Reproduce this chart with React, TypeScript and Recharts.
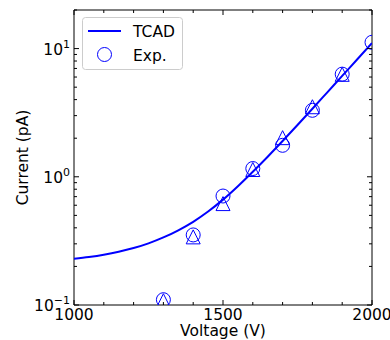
import { ComposedChart, Line, Scatter, XAxis, YAxis, Legend, Label, ReferenceArea } from "recharts"

// TCAD simulation curve
const tcadVoltage = [1000, 1050, 1100, 1150, 1200, 1250, 1300, 1350, 1400, 1450, 1500, 1550, 1600, 1650, 1700, 1750, 1800, 1850, 1900, 1950, 2000]
const tcadCurrent = [0.229, 0.2366, 0.2466, 0.26, 0.278, 0.3027, 0.3365, 0.3828, 0.4457, 0.5358, 0.6637, 0.8453, 1.096, 1.435, 1.901, 2.535, 3.396, 4.56, 6.124, 8.222, 11.04]

// measured points, two sets (circles / triangles)
const circleVoltage = [1300, 1400, 1500, 1600, 1700, 1800, 1900, 2000]
const circleCurrent = [0.11, 0.352, 0.708, 1.16, 1.76, 3.3, 6.32, 11.2]
const triangleVoltage = [1300, 1400, 1500, 1600, 1700, 1800, 1900]
const triangleCurrent = [0.108, 0.34, 0.618, 1.14, 2.02, 3.52, 6.3]

const xTicks = [1000, 1100, 1200, 1300, 1400, 1500, 1600, 1700, 1800, 1900, 2000]
const xMajor = [1000, 1500, 2000]
const yTicks = [0.1, 0.2, 0.3, 0.4, 0.5, 0.6, 0.7, 0.8, 0.9, 1, 2, 3, 4, 5, 6, 7, 8, 9, 10, 20]
const yMajor = [0.1, 1, 10]
const yExponent: Record<string, string> = { "0.1": "−1", "1": "0", "10": "1" }

const toPoints = (xs: number[], ys: number[]) => xs.map((v, i) => ({ voltage: v, current: ys[i] }))
const tcadData = toPoints(tcadVoltage, tcadCurrent)
const circleData = toPoints(circleVoltage, circleCurrent)
const triangleData = toPoints(triangleVoltage, triangleCurrent)

const BLUE = "#0000ff"
const FONT = 15.5
// axes are 1px thick, so plot area = left 74, right 372, top 10, bottom 305
const margin = { top: 10, right: 18, bottom: 34, left: 73 }
const PLOT_TOP = margin.top
const PLOT_RIGHT = 390 - margin.right

function XTick({ x, y, payload }: any) {
  const major = xMajor.includes(payload.value)
  const len = major ? 5 : 3
  return (
    <g>
      <line x1={x} x2={x} y1={y} y2={y - len} stroke="#000" />
      <line x1={x} x2={x} y1={PLOT_TOP} y2={PLOT_TOP + len} stroke="#000" />
      {major && (
        <text x={x} y={y + 15} textAnchor="middle" fontSize={FONT} fill="#000">
          {payload.value}
        </text>
      )}
    </g>
  )
}

function YTick({ x, y, payload }: any) {
  const major = yMajor.includes(payload.value)
  const len = major ? 5 : 3
  return (
    <g>
      <line x1={x} x2={x + len} y1={y} y2={y} stroke="#000" />
      <line x1={PLOT_RIGHT} x2={PLOT_RIGHT - len} y1={y} y2={y} stroke="#000" />
      {major && (
        <text x={x - 4} y={y + 6} textAnchor="end" fontSize={FONT} fill="#000">
          10
          <tspan dy={-7} fontSize={11}>{yExponent[String(payload.value)]}</tspan>
        </text>
      )}
    </g>
  )
}

function CircleMarker({ cx, cy }: any) {
  return <circle cx={cx} cy={cy} r={7} fill="none" stroke={BLUE} strokeWidth={1} />
}

function TriangleMarker({ cx, cy }: any) {
  return (
    <polygon
      points={`${cx},${cy - 7} ${cx - 7},${cy + 7} ${cx + 7},${cy + 7}`}
      fill="none"
      stroke={BLUE}
      strokeWidth={1}
    />
  )
}

function LegendBox() {
  return (
    <svg width={101} height={53} style={{ display: "block" }}>
      <rect x={0.5} y={0.5} width={100} height={52} rx={3} fill="#fff" fillOpacity={0.8} stroke="#ccc" />
      <line x1={6} x2={39} y1={14} y2={14} stroke={BLUE} strokeWidth={2} />
      <text x={51} y={19.5} fontSize={FONT} fill="#000">TCAD</text>
      <circle cx={22.5} cy={37.5} r={7} fill="none" stroke={BLUE} />
      <text x={51} y={43.5} fontSize={FONT} fill="#000">Exp.</text>
    </svg>
  )
}

export default function App() {
  return (
    <div style={{ position: "absolute", left: 0, top: 0, width: 390, height: 340, background: "#fff", fontFamily: "DejaVu Sans" }}>
      <ComposedChart width={390} height={340} margin={margin}>
        <XAxis
          dataKey="voltage"
          type="number"
          domain={[1000, 2000]}
          allowDataOverflow
          ticks={xTicks}
          interval={0}
          tick={XTick}
          tickLine={false}
          axisLine={false}
          tickSize={0}
          tickMargin={0}
          height={1}
        >
          <Label value="Voltage (V)" position="bottom" offset={19} fill="#000" fontSize={FONT} />
        </XAxis>
        <YAxis
          dataKey="current"
          type="number"
          scale="log"
          domain={[0.1, 20]}
          allowDataOverflow
          ticks={yTicks}
          interval={0}
          tick={YTick}
          tickLine={false}
          axisLine={false}
          tickSize={0}
          tickMargin={0}
          width={1}
        >
          <Label
            value="Current (pA)"
            angle={-90}
            position="left"
            offset={50.5}
            fill="#000"
            fontSize={FONT}
            style={{ textAnchor: "middle" }}
          />
        </YAxis>
        <ReferenceArea x1={1000} x2={2000} y1={0.1} y2={20} fill="none" stroke="#000" strokeWidth={1} />
        <Line
          data={tcadData}
          dataKey="current"
          type="monotone"
          stroke={BLUE}
          strokeWidth={2}
          dot={false}
          isAnimationActive={false}
        />
        <Scatter data={circleData} dataKey="current" shape={CircleMarker} isAnimationActive={false} />
        <Scatter data={triangleData} dataKey="current" shape={TriangleMarker} isAnimationActive={false} />
        <Legend
          layout="vertical"
          align="center"
          verticalAlign="middle"
          wrapperStyle={{ left: 82, top: 17, width: 101, height: 53 }}
          content={LegendBox}
        />
      </ComposedChart>
    </div>
  )
}
